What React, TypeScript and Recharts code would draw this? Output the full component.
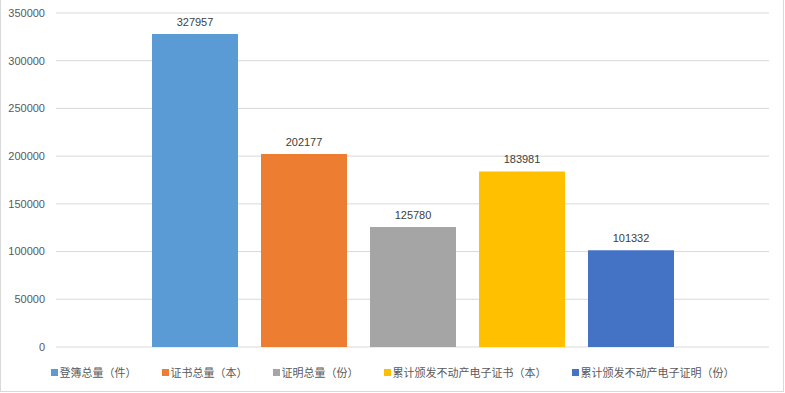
import { BarChart, Bar, XAxis, YAxis, CartesianGrid, Legend, LabelList } from 'recharts';

const seriesNames = [
  '登簿总量（件）',
  '证书总量（本）',
  '证明总量（份）',
  '累计颁发不动产电子证书（本）',
  '累计颁发不动产电子证明（份）',
];
const seriesValues = [327957, 202177, 125780, 183981, 101332];
const seriesColors = ['#5B9BD5', '#ED7D31', '#A5A5A5', '#FFC000', '#4472C4'];
const yTicks = [0, 50000, 100000, 150000, 200000, 250000, 300000, 350000];

const chartData = [
  seriesNames.reduce<Record<string, string | number>>(
    (row, name, i) => {
      row[name] = seriesValues[i];
      return row;
    },
    { name: '' }
  ),
];

function LegendContent() {
  return (
    <div
      style={{
        display: 'flex',
        justifyContent: 'center',
        alignItems: 'center',
        height: 16,
        fontFamily: '"Noto Sans CJK SC", sans-serif',
        fontSize: 11,
        color: '#595959',
      }}
    >
      {seriesNames.map((name, i) => (
        <div key={name} style={{ display: 'flex', alignItems: 'center', marginRight: i < seriesNames.length - 1 ? 25 : 0 }}>
          <span style={{ width: 7, height: 7, background: seriesColors[i], marginRight: 2, display: 'inline-block' }} />
          <span>{name}</span>
        </div>
      ))}
    </div>
  );
}

export default function App() {
  return (
    <div style={{ position: 'absolute', left: 0, top: 0, width: 785, height: 393, background: '#fff' }}>
      <BarChart
        width={785}
        height={393}
        data={chartData}
        margin={{ top: 13, right: 16, left: 0, bottom: 30 }}
        barSize={86}
        barGap={23}
      >
        <CartesianGrid vertical={false} stroke="#D9D9D9" />
        <XAxis dataKey="name" hide />
        <YAxis
          width={56}
          domain={[0, 350000]}
          ticks={yTicks}
          axisLine={false}
          tickLine={false}
          tickMargin={5}
          tick={{ fill: '#595959', fontSize: 11, fontFamily: '"Liberation Sans", Arial, sans-serif' }}
        />
        <Legend
          content={<LegendContent />}
          verticalAlign="bottom"
          wrapperStyle={{ left: 0, width: 785, top: 364 }}
        />
        {seriesNames.map((name, i) => (
          <Bar key={name} dataKey={name} fill={seriesColors[i]} isAnimationActive={false}>
            <LabelList
              dataKey={name}
              position="top"
              offset={8}
              style={{ fill: '#404040', fontSize: 11, fontFamily: '"Liberation Sans", Arial, sans-serif' }}
            />
          </Bar>
        ))}
      </BarChart>
      <div
        style={{
          position: 'absolute',
          left: 0,
          top: 0,
          width: 782,
          height: 391,
          borderLeft: '1px solid #D9D9D9',
          borderRight: '1px solid #D9D9D9',
          borderBottom: '1px solid #D9D9D9',
          pointerEvents: 'none',
        }}
      />
    </div>
  );
}
